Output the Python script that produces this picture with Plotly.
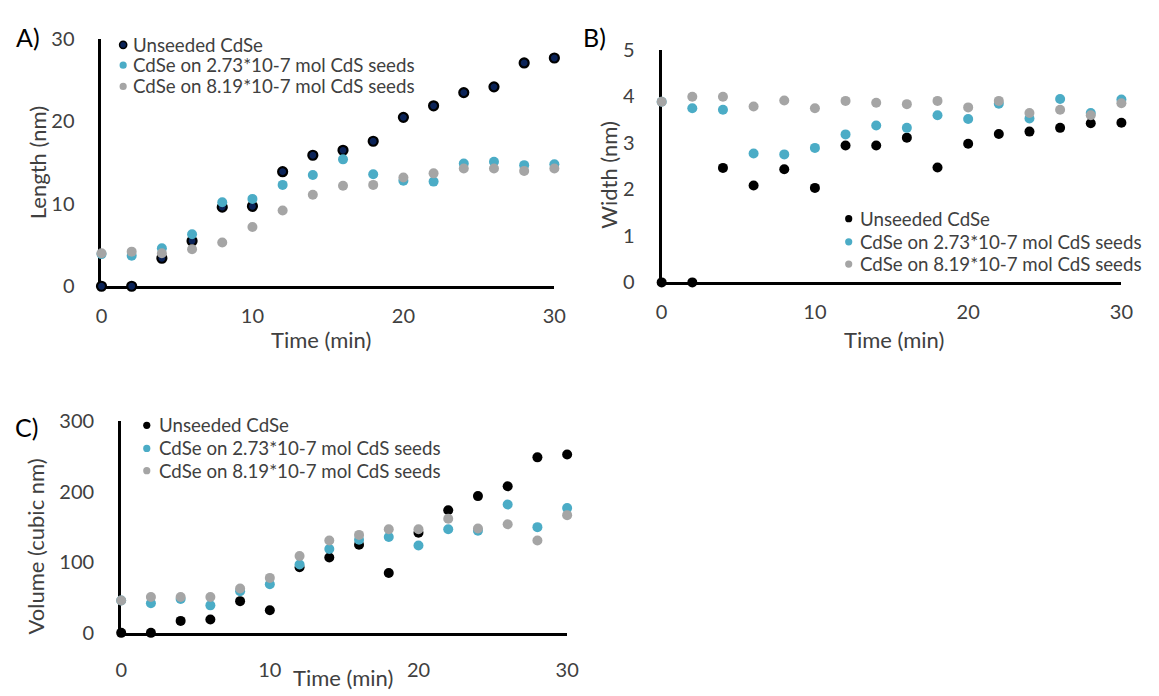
import plotly.graph_objects as go

W, H = 1159, 696

time_min = [0, 2, 4, 6, 8, 10, 12, 14, 16, 18, 20, 22, 24, 26, 28, 30]

series_names = ["Unseeded CdSe",
                "CdSe on 2.73*10-7 mol CdS seeds",
                "CdSe on 8.19*10-7 mol CdS seeds"]

# Panel A: Length (nm)
length_unseeded = [0, 0, 3.4, 5.5, 9.6, 9.7, 13.9, 15.9, 16.5, 17.6, 20.5, 21.9, 23.5, 24.2, 27.1, 27.7]
length_seed273 = [3.9, 3.7, 4.6, 6.3, 10.2, 10.6, 12.3, 13.5, 15.4, 13.6, 12.8, 12.7, 14.9, 15.1, 14.7, 14.8]
length_seed819 = [4.0, 4.2, 4.0, 4.5, 5.3, 7.2, 9.2, 11.1, 12.2, 12.3, 13.2, 13.7, 14.3, 14.3, 14.0, 14.3]

# Panel B: Width (nm)
width_unseeded = [0, 0, 2.46, 2.08, 2.43, 2.03, 2.94, 2.94, 3.11, 2.47, 2.98, 3.19, 3.24, 3.32, 3.42, 3.43]
width_seed273 = [3.88, 3.74, 3.71, 2.77, 2.75, 2.89, 3.18, 3.37, 3.32, 3.59, 3.51, 3.84, 3.52, 3.94, 3.64, 3.93]
width_seed819 = [3.88, 3.99, 3.99, 3.78, 3.91, 3.74, 3.90, 3.86, 3.83, 3.90, 3.76, 3.90, 3.64, 3.71, 3.59, 3.85]

# Panel C: Volume (cubic nm)
volume_unseeded = [0, 0, 17, 19, 45, 32, 93, 107, 125, 85, 142, 174, 194, 208, 249, 253]
volume_seed273 = [46, 42, 48, 39, 59, 69, 97, 119, 132, 136, 124, 147, 145, 182, 150, 177]
volume_seed819 = [46, 51, 51, 51, 63, 78, 109, 131, 139, 147, 147, 162, 148, 154, 131, 167]

x_ticks = [0, 10, 20, 30]
length_ticks = [0, 10, 20, 30]
width_ticks = [0, 1, 2, 3, 4, 5]
volume_ticks = [0, 100, 200, 300]

BLUE = "#4bacc6"
GRAY = "#a5a5a5"
BLACK = "#000000"
NAVY = "#0b2358"
TXT = "#404040"
FONT = "Lato"


def px_x(p):
    return p / W


def px_y(p):
    return 1 - p / H


fig = go.Figure()

panels = [
    ("x", "y", (length_unseeded, length_seed273, length_seed819), "navy"),
    ("x2", "y2", (width_unseeded, width_seed273, width_seed819), "black"),
    ("x3", "y3", (volume_unseeded, volume_seed273, volume_seed819), "black"),
]

for xa, ya, (u, s1, s2), style in panels:
    if style == "navy":
        mk_u = dict(size=9, color=NAVY, line=dict(color=BLACK, width=2.2))
    else:
        mk_u = dict(size=10, color=BLACK, line=dict(width=0))
    fig.add_trace(go.Scatter(x=time_min, y=u, mode="markers", marker=mk_u,
                             name=series_names[0], xaxis=xa, yaxis=ya,
                             cliponaxis=False, showlegend=False))
    fig.add_trace(go.Scatter(x=time_min, y=s1, mode="markers",
                             marker=dict(size=10, color=BLUE, line=dict(width=0)),
                             name=series_names[1], xaxis=xa, yaxis=ya,
                             cliponaxis=False, showlegend=False))
    fig.add_trace(go.Scatter(x=time_min, y=s2, mode="markers",
                             marker=dict(size=10, color=GRAY, line=dict(width=0)),
                             name=series_names[2], xaxis=xa, yaxis=ya,
                             cliponaxis=False, showlegend=False))

tickfont = dict(family=FONT, size=20, color=TXT)


def xax(domain, anchor, standoff=10):
    return dict(domain=domain, anchor=anchor, range=[0, 30], tickvals=x_ticks,
                showgrid=False, zeroline=False, showline=True, linecolor=BLACK,
                linewidth=3, ticks="", tickfont=tickfont, ticklabelstandoff=standoff,
                layer="below traces", fixedrange=True)


def yax(domain, anchor, rng, tv):
    return dict(domain=domain, anchor=anchor, range=rng, tickvals=tv,
                showgrid=False, zeroline=False, showline=True, linecolor=BLACK,
                linewidth=3, ticks="", tickfont=tickfont, ticklabelstandoff=20,
                layer="below traces", fixedrange=True)


A_x = [px_x(97), px_x(557)]
A_y = [px_y(283), px_y(27)]
B_x = [px_x(666), px_x(1133)]
B_y = [px_y(279), px_y(38)]
C_x = [px_x(117), px_x(570)]
C_y = [px_y(642), px_y(423)]

fig.update_layout(
    width=W, height=H,
    margin=dict(l=0, r=0, t=0, b=0),
    paper_bgcolor="white", plot_bgcolor="white",
    showlegend=False,
    xaxis=xax(A_x, "y"),
    yaxis=yax(A_y, "x", [0, 30], length_ticks),
    xaxis2=xax(B_x, "y2"),
    yaxis2=yax(B_y, "x2", [0, 5], width_ticks),
    xaxis3=xax(C_x, "y3", standoff=17),
    yaxis3=yax(C_y, "x3", [0, 300], volume_ticks),
)

annotations = []
shapes = []


def text(x, y, s, size=20, color=TXT, xanchor="center", angle=0):
    annotations.append(dict(x=px_x(x), y=px_y(y), xref="paper", yref="paper",
                            text=s, showarrow=False, xanchor=xanchor,
                            yanchor="middle", textangle=angle,
                            font=dict(family=FONT, size=size, color=color)))


# panel letters
text(22, 25, "A)", size=25, color=BLACK)
text(598, 25, "B)", size=25, color=BLACK)
text(21, 429, "C)", size=25, color=BLACK)

# axis titles
text(32, 155, "Length (nm)", size=22, angle=-90)
text(320, 338, "Time (min)", size=22)
text(612, 167, "Width (nm)", size=22, angle=-90)
text(902, 338, "Time (min)", size=22)
text(30, 553, "Volume (cubic nm)", size=22, angle=-90)
text(342, 688, "Time (min)", size=22)

legend_colors_A = [NAVY, BLUE, GRAY]
legend_colors_BC = [BLACK, BLUE, GRAY]


def legend(mx, tx, rows, colors, outline_first=False):
    for i, (ry, col) in enumerate(zip(rows, colors)):
        line = dict(width=1.5, color=BLACK) if (outline_first and i == 0) else dict(width=0)
        shapes.append(dict(type="circle", xref="paper", yref="paper",
                           xsizemode="pixel", ysizemode="pixel",
                           xanchor=px_x(mx), yanchor=px_y(ry),
                           x0=-3.6, x1=3.6, y0=-3.6, y1=3.6,
                           fillcolor=col, line=line))
        text(tx, ry, series_names[i], size=18.7, xanchor="left")


legend(119, 127, [33, 54, 76], legend_colors_A, outline_first=True)
legend(856, 865, [213, 237, 260], legend_colors_BC)
legend(143, 153, [427, 451, 474], legend_colors_BC)

fig.update_layout(annotations=annotations, shapes=shapes)

fig.write_html("out.html")
